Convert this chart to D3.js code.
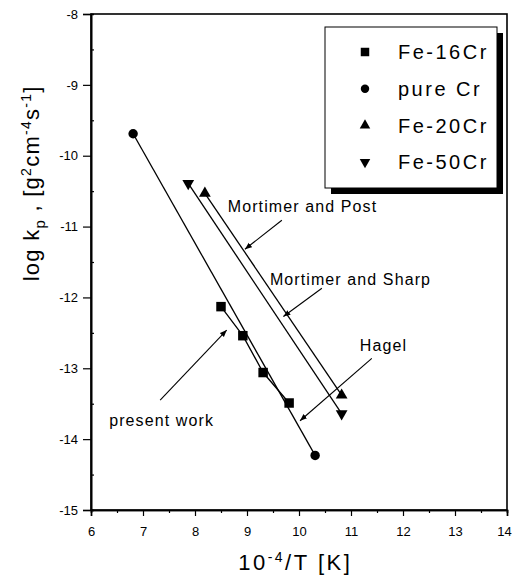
<!DOCTYPE html>
<html>
<head>
<meta charset="utf-8">
<script src="https://cdn.jsdelivr.net/npm/d3@7"></script>
<style>
  html, body { margin: 0; padding: 0; background: #fff; overflow: hidden; }
  svg { display: block; }
  text { font-family: "Liberation Sans", Arial, sans-serif; fill: #000; }
</style>
</head>
<body>
<svg width="513" height="588"></svg>
<script>
// data: x = 10^4/T, y = log kp
const fe16X = [8.5, 8.92, 9.31, 9.81];
const fe16Y = [-12.13, -12.54, -13.06, -13.49];
const pureCrX = [6.81, 10.31];
const pureCrY = [-9.69, -14.23];
const fe20X = [8.19, 10.82];
const fe20Y = [-10.53, -13.38];
const fe50X = [7.87, 10.82];
const fe50Y = [-10.39, -13.64];

const seriesNames = ['Fe-16Cr', 'pure Cr', 'Fe-20Cr', 'Fe-50Cr'];
const xTicks = [6, 7, 8, 9, 10, 11, 12, 13, 14];
const yTicks = [-8, -9, -10, -11, -12, -13, -14, -15];

// labels with arrows, in data units
const notes = [
  {text: 'Mortimer and Post', tx: 8.63, ty: -10.79, x1: 9.67, y1: -10.91, x2: 8.96, y2: -11.32},
  {text: 'Mortimer and Sharp', tx: 9.44, ty: -11.83, x1: 10.44, y1: -11.87, x2: 9.70, y2: -12.27},
  {text: 'Hagel', tx: 11.17, ty: -12.75, x1: 11.40, y1: -12.86, x2: 10.02, y2: -13.74},
  {text: 'present work', tx: 6.35, ty: -13.82, x1: 7.33, y1: -13.45, x2: 8.61, y2: -12.46}
];

const svg = d3.select('svg');
const margin = {top: 14, right: 6, bottom: 78, left: 91};
const width = +svg.attr('width');
const height = +svg.attr('height');
const innerWidth = width - margin.left - margin.right;
const innerHeight = height - margin.top - margin.bottom;

// the scan has wide letter gaps; stretch the text run instead of letter-spacing
const spread = (sel, k) => sel.each(function () {
  const n = this.textContent.length;
  const len = this.getComputedTextLength();
  d3.select(this).attr('textLength', len + k * (n - 1)).attr('lengthAdjust', 'spacing');
});

const xScale = d3.scaleLinear().domain([6, 14]).range([0, innerWidth]);
const yScale = d3.scaleLinear().domain([-15, -8]).range([innerHeight, 0]);

const g = svg.append('g')
  .attr('transform', `translate(${margin.left}, ${margin.top})`);

// frame
g.append('rect')
  .attr('width', innerWidth).attr('height', innerHeight)
  .attr('fill', 'none').attr('stroke', '#000').attr('stroke-width', 1.6);

// axes
const yAxis = g.append('g').call(d3.axisLeft(yScale)
  .tickValues(yTicks).tickSize(8).tickPadding(5).tickFormat(d => '-' + Math.abs(d)));
g.append('g').attr('class', 'minor').call(d3.axisLeft(yScale)
  .tickValues(d3.range(-14.5, -8, 1)).tickSize(-3));

const xAxis = g.append('g')
  .attr('transform', `translate(0, ${innerHeight})`)
  .call(d3.axisBottom(xScale).tickValues(xTicks).tickSize(6).tickPadding(11).tickFormat(d3.format('d')));
g.append('g').attr('class', 'minor')
  .attr('transform', `translate(0, ${innerHeight})`)
  .call(d3.axisBottom(xScale).tickValues(d3.range(6.5, 14, 1)).tickSize(3));
g.selectAll('.minor text').remove();

[yAxis, xAxis].forEach(ax => ax.attr('font-size', 13)
  .attr('font-family', '"Liberation Sans", Arial, sans-serif'));
g.selectAll('.domain').attr('stroke-width', 1.6);
g.selectAll('.tick line').attr('stroke-width', 1.2);
g.selectAll('.tick text').attr('fill', '#000');
// last label sits on the window edge, pull it in a little
xAxis.selectAll('.tick text').filter(d => d === 14).attr('dx', -3);

// series lines
const line = d3.line().x(d => xScale(d[0])).y(d => yScale(d[1]));
const series = [
  {name: seriesNames[0], pts: d3.zip(fe16X, fe16Y), sym: d3.symbolSquare, size: 90, rot: 0},
  {name: seriesNames[1], pts: d3.zip(pureCrX, pureCrY), sym: d3.symbolCircle, size: 70, rot: 0},
  {name: seriesNames[2], pts: d3.zip(fe20X, fe20Y), sym: d3.symbolTriangle, size: 60, rot: 0},
  {name: seriesNames[3], pts: d3.zip(fe50X, fe50Y), sym: d3.symbolTriangle, size: 60, rot: 180}
];

g.selectAll('path.fit').data(series).enter().append('path')
  .attr('class', 'fit')
  .attr('d', d => line(d.pts))
  .attr('fill', 'none').attr('stroke', '#000').attr('stroke-width', 1.3);

series.forEach(s => {
  g.selectAll(null).data(s.pts).enter().append('path')
    .attr('d', d3.symbol(s.sym, s.size))
    .attr('transform', d => `translate(${xScale(d[0])}, ${yScale(d[1])}) rotate(${s.rot})`)
    .attr('fill', '#000');
});

// annotations
svg.append('defs').append('marker')
  .attr('id', 'arr').attr('viewBox', '0 0 10 10')
  .attr('refX', 10).attr('refY', 5)
  .attr('markerWidth', 7).attr('markerHeight', 7)
  .attr('markerUnits', 'userSpaceOnUse')
  .attr('orient', 'auto')
  .append('path').attr('d', 'M0,1 L10,5 L0,9 Z').attr('fill', '#000');

const ann = g.selectAll('g.note').data(notes).enter().append('g').attr('class', 'note');
ann.append('line')
  .attr('x1', d => xScale(d.x1)).attr('y1', d => yScale(d.y1))
  .attr('x2', d => xScale(d.x2)).attr('y2', d => yScale(d.y2))
  .attr('stroke', '#000').attr('stroke-width', 1.1)
  .attr('marker-end', 'url(#arr)');
ann.append('text')
  .attr('x', d => xScale(d.tx)).attr('y', d => yScale(d.ty))
  .attr('font-size', 16)
  .text(d => d.text)
  .call(spread, 1.1);

// legend
const lg = svg.append('g').attr('transform', 'translate(325, 27)');
const lgW = 172, lgH = 161;
lg.append('rect').attr('x', 6).attr('y', 6).attr('width', lgW).attr('height', lgH).attr('fill', '#000');
lg.append('rect').attr('width', lgW).attr('height', lgH)
  .attr('fill', '#fff').attr('stroke', '#000').attr('stroke-width', 1);
const rows = lg.selectAll('g.row').data(series).enter().append('g')
  .attr('class', 'row')
  .attr('transform', (d, i) => `translate(40, ${25 + i * 36.7})`);
rows.append('path')
  .attr('d', d => d3.symbol(d.sym, d.size * 0.8)())
  .attr('transform', d => `rotate(${d.rot})`)
  .attr('fill', '#000');
rows.append('text')
  .attr('x', 33).attr('dy', '0.36em')
  .attr('font-size', 20)
  .text(d => d.name)
  .call(spread, 2.5);

// axis titles
const xt = svg.append('text')
  .attr('x', margin.left + innerWidth / 2 - 5).attr('y', 570)
  .attr('text-anchor', 'middle').attr('font-size', 22);
xt.append('tspan').text('10');
xt.append('tspan').attr('dy', -8).attr('font-size', 14).text('-4');
xt.append('tspan').attr('dy', 8).text('/T [K]');
xt.call(spread, 2.5);

const yt = svg.append('text')
  .attr('transform', 'translate(39, 184) rotate(-90)')
  .attr('text-anchor', 'middle').attr('font-size', 22);
yt.append('tspan').text('log k');
yt.append('tspan').attr('dy', 6).attr('font-size', 15).text('p');
yt.append('tspan').attr('dy', -6).text(' ,  [g');
yt.append('tspan').attr('dy', -8).attr('font-size', 14).text('2');
yt.append('tspan').attr('dy', 8).text('cm');
yt.append('tspan').attr('dy', -8).attr('font-size', 14).text('-4');
yt.append('tspan').attr('dy', 8).text('s');
yt.append('tspan').attr('dy', -8).attr('font-size', 14).text('-1');
yt.append('tspan').attr('dy', 8).text(']');
yt.call(spread, 1.2);
</script>
</body>
</html>
